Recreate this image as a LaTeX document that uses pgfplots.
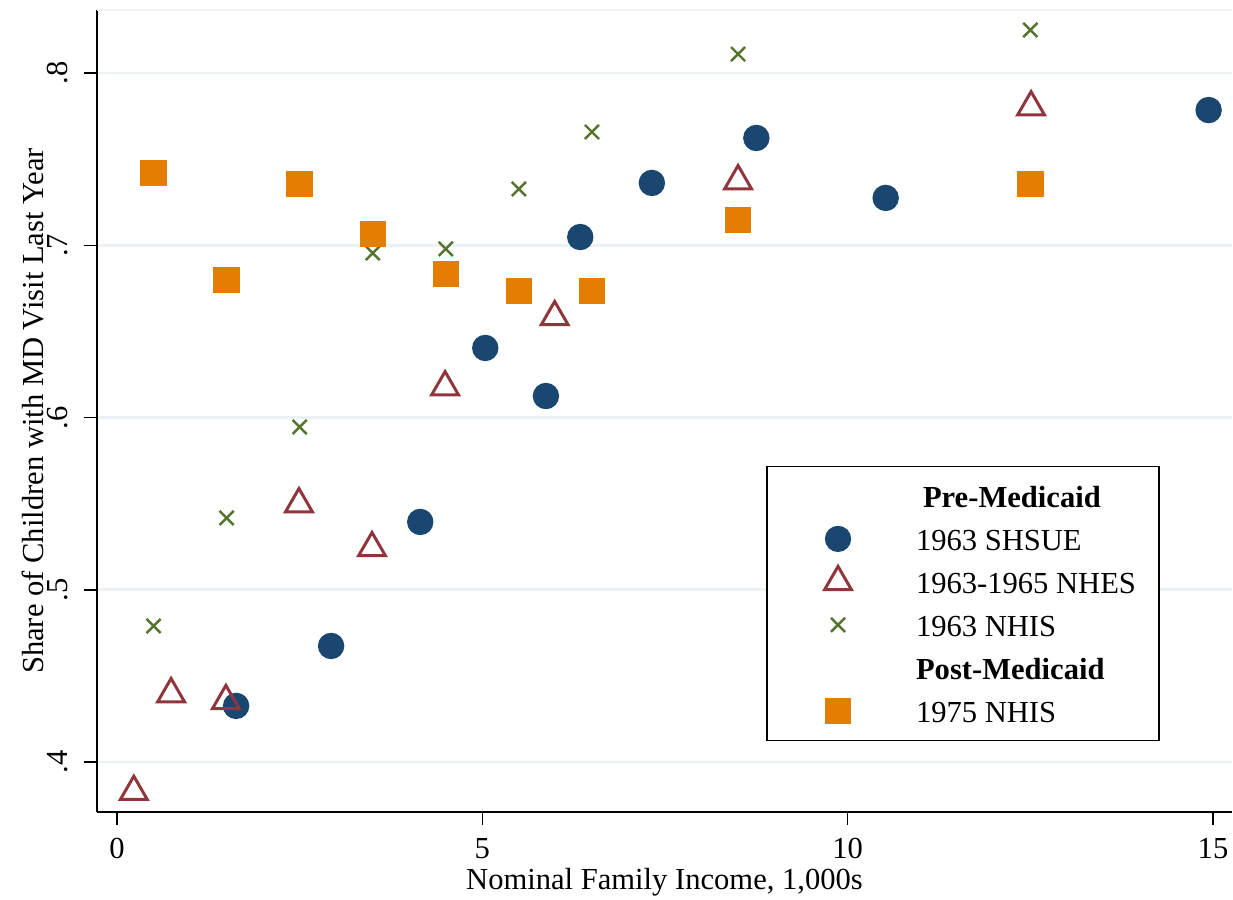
\documentclass[border=0pt]{standalone}
\usepackage{fontspec}
\setmainfont{Liberation Serif}
\usepackage{pgfplots}
\pgfplotsset{compat=1.18}

\definecolor{snavy}{RGB}{26,71,111}
\definecolor{smaroon}{RGB}{144,53,59}
\definecolor{sgreen}{RGB}{85,117,47}
\definecolor{sorange}{RGB}{227,126,0}
\definecolor{sgrid}{RGB}{234,242,243}

\begin{document}
\begin{tikzpicture}[font=\fontsize{8.7pt}{10.4pt}\selectfont]
\begin{axis}[
  scale only axis,
  width=113.5mm, height=80.2mm,
  xmin=-0.274, xmax=15.26,
  ymin=0.371, ymax=0.8366,
  axis x line*=bottom, axis y line*=left,
  axis line style={-, line width=0.4pt, black},
  xtick={0,5,10,15},
  ytick={0.4,0.5,0.6,0.7,0.8},
  yticklabels={.4,.5,.6,.7,.8},
  /pgf/number format/assume math mode=true,
  tick align=outside,
  major tick length=1.25mm,
  tick style={black, line width=0.4pt},
  ymajorgrids,
  major grid style={sgrid, line width=0.8pt},
  xticklabel style={inner sep=0pt, anchor=north},
  yticklabel style={rotate=90, inner sep=0pt, anchor=south},
  xticklabel shift=1.3mm,
  yticklabel shift=1.6mm,
  xlabel={Nominal Family Income, 1,000s},
  ylabel={Share of Children with MD Visit Last Year},
  xlabel style={at={(axis description cs:0.5,-0.0698)}, anchor=north, inner sep=0pt},
  ylabel style={at={(axis description cs:-0.0465,0.5)}, rotate=0, anchor=south, inner sep=0pt},
  legend cell align=left,
  legend image code/.code={%
    \path[draw=none, fill=none] (-4.8mm,0mm) -- (7.8mm,0mm);
    \draw[#1] plot coordinates {(0mm,0mm)};},
  legend style={
    at={(axis description cs:0.5898,0.4314)}, anchor=north west,
    draw=black, line width=0.35pt, fill=white,
    inner xsep=2.3mm, inner ysep=1.2mm,
    row sep=0.85mm, column sep=0pt,
    nodes={inner sep=0pt, text height=2.85mm, text depth=0.6mm},
  },
]
\draw[black!5, line width=0.3pt] (rel axis cs:0,1) -- (rel axis cs:1,1);

\addlegendimage{empty legend}
\addlegendentry{\hspace*{0.7mm}\textbf{Pre-Medicaid}}

% 1963 SHSUE
\addplot[only marks, mark=*, mark size=1.25mm, draw=snavy, fill=snavy, mark options={draw=snavy, fill=snavy}]
  coordinates {(1.63,0.4326) (2.93,0.4674) (4.15,0.5394) (5.04,0.6404) (5.87,0.6125)
               (6.34,0.7048) (7.32,0.7362) (8.75,0.7623) (10.52,0.7275) (14.94,0.7785)};
\addlegendentry{1963 SHSUE}

% 1963-1965 NHES
\addplot[only marks, mark=triangle, mark size=1.55mm, smaroon, mark options={line width=0.85pt, draw=smaroon}]
  coordinates {(0.23,0.3828) (0.74,0.4395) (1.49,0.4355) (2.49,0.5498) (3.49,0.5243)
               (4.49,0.6177) (5.99,0.6584) (8.50,0.7373) (12.51,0.7802)};
\addlegendentry{1963-1965 NHES}

% 1963 NHIS
\addplot[only marks, mark=x, mark size=1.0mm, sgreen, mark options={line width=0.7pt, draw=sgreen}]
  coordinates {(0.5,0.479) (1.5,0.5417) (2.5,0.5945) (3.5,0.6955) (4.5,0.6979)
               (5.5,0.7327) (6.5,0.7658) (8.5,0.811) (12.5,0.825)};
\addlegendentry{1963 NHIS}

\addlegendimage{empty legend}
\addlegendentry{\textbf{Post-Medicaid}}

% 1975 NHIS
\addplot[only marks, mark=square*, mark size=1.25mm, sorange, mark options={draw=sorange, fill=sorange}]
  coordinates {(0.5,0.742) (1.5,0.680) (2.5,0.7356) (3.5,0.7066) (4.5,0.6833)
               (5.5,0.6735) (6.5,0.6735) (8.5,0.7147) (12.5,0.7356)};
\addlegendentry{1975 NHIS}
\end{axis}
\pgfresetboundingbox
\path ([xshift=-9.7mm,yshift=-8.7mm]current axis.south west)
  rectangle ([xshift=0.1mm,yshift=1.0mm]current axis.north east);
\end{tikzpicture}
\end{document}
